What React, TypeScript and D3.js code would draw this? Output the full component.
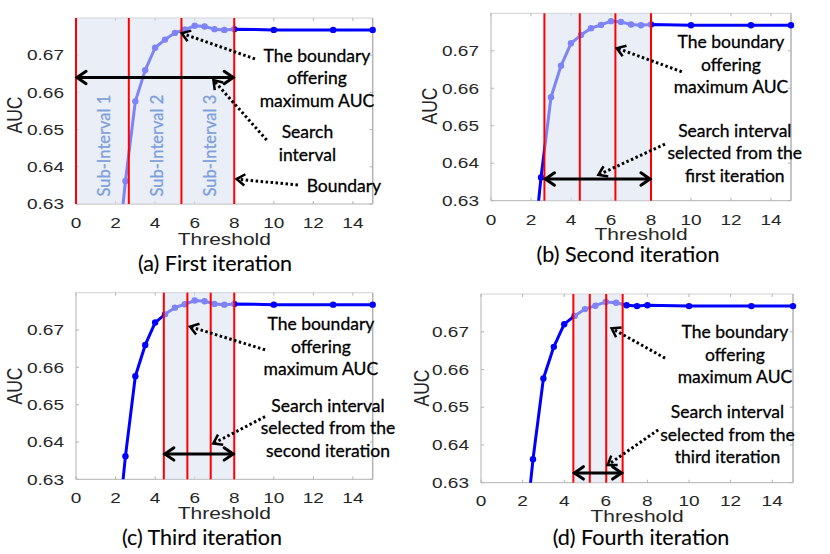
import React from 'react';
import * as d3 from 'd3';

// ---- data ----
const thresholds = [2, 2.5, 3, 3.5, 4, 4.5, 5, 5.5, 6, 6.5, 7, 7.5, 8, 10, 13, 15];
const aucValues = [0.61, 0.6362, 0.6576, 0.666, 0.672, 0.6742, 0.676, 0.6769, 0.6779, 0.6777, 0.677, 0.6768, 0.677, 0.6768, 0.6768, 0.6768];
const xTicks = [0, 2, 4, 6, 8, 10, 12, 14];
const yTicks = [0.63, 0.64, 0.65, 0.66, 0.67];

const boundariesA = [0, 2.67, 5.33, 8];
const boundariesB = [2.67, 4.44, 6.22, 8];
const boundariesC = [4.44, 5.63, 6.81, 8];
const boundariesD = [4.44, 5.23, 6.02, 6.81];

const shadeA = [0, 8];
const shadeB = [2.67, 8];
const shadeC = [4.44, 8];
const shadeD = [4.44, 6.81];

const searchA = [0, 8, 0.664];
const searchB = [2.67, 8, 0.6358];
const searchC = [4.44, 8, 0.6368];
const searchD = [4.44, 6.81, 0.6326];

const subIntervalLabels = ['Sub-Interval 1', 'Sub-Interval 2', 'Sub-Interval 3'];
const captions = ['(a) First iteration', '(b) Second iteration', '(c) Third iteration', '(d) Fourth iteration'];

type Ann = {
  lines: string[];
  tx: number; ty: number; anchor: 'middle' | 'start';
  from: [number, number]; to: [number, number];
};

const annotationsA: Ann[] = [
  { lines: ['The boundary', 'offering', 'maximum AUC'], tx: 12.18, ty: 0.6683, anchor: 'middle', from: [9.05, 0.669], to: [5.34, 0.6759] },
  { lines: ['Search', 'interval'], tx: 11.7, ty: 0.6477, anchor: 'middle', from: [9.64, 0.6472], to: [6.95, 0.6633] },
  { lines: ['Boundary'], tx: 11.66, ty: 0.6332, anchor: 'start', from: [11.22, 0.6351], to: [8.12, 0.6367] },
];
const annotationsB: Ann[] = [
  { lines: ['The boundary', 'offering', 'maximum AUC'], tx: 12.0, ty: 0.6707, anchor: 'middle', from: [9.54, 0.6644], to: [6.29, 0.6707] },
  { lines: ['Search interval', 'selected from the', 'first iteration'], tx: 12.19, ty: 0.6471, anchor: 'middle', from: [8.7, 0.6451], to: [5.37, 0.6369] },
];
const annotationsC: Ann[] = [
  { lines: ['The boundary', 'offering', 'maximum AUC'], tx: 12.38, ty: 0.67, anchor: 'middle', from: [9.56, 0.6647], to: [5.76, 0.6709] },
  { lines: ['Search interval', 'selected from the', 'second iteration'], tx: 12.74, ty: 0.6481, anchor: 'middle', from: [9.56, 0.6468], to: [6.94, 0.6396] },
];
const annotationsD: Ann[] = [
  { lines: ['The boundary', 'offering', 'maximum AUC'], tx: 12.21, ty: 0.6683, anchor: 'middle', from: [8.85, 0.663], to: [6.28, 0.6709] },
  { lines: ['Search interval', 'selected from the', 'third iteration'], tx: 11.85, ty: 0.6471, anchor: 'middle', from: [8.52, 0.644], to: [6.09, 0.6347] },
];

const panels = [
  { left: 76, right: 372.7, top: 18, bottom: 204, boundaries: boundariesA, shade: shadeA, search: searchA, annotations: annotationsA, caption: captions[0], capX: 215, capY: 271, thY: 245, tickY: 223, aucX: 14, aucY: 115, sub: true },
  { left: 491, right: 791, top: 13.3, bottom: 200.7, boundaries: boundariesB, shade: shadeB, search: searchB, annotations: annotationsB, caption: captions[1], capX: 628, capY: 262, thY: 240, tickY: 220, aucX: 429, aucY: 106, sub: false },
  { left: 76, right: 372.7, top: 292.7, bottom: 479.3, boundaries: boundariesC, shade: shadeC, search: searchC, annotations: annotationsC, caption: captions[2], capX: 202, capY: 545, thY: 519, tickY: 498, aucX: 14, aucY: 386, sub: false },
  { left: 481, right: 793, top: 294, bottom: 482.7, boundaries: boundariesD, shade: shadeD, search: searchD, annotations: annotationsD, caption: captions[3], capX: 641, capY: 545, thY: 522, tickY: 501, aucX: 421, aucY: 388, sub: false },
];

const AXIS_FONT = '"Liberation Sans", Arial, sans-serif';
const TEXT_FONT = 'Lato, "Open Sans", sans-serif';
const STRETCH = 1.27;

function head(from: [number, number], to: [number, number], L = 9, ang = 0.55) {
  const dx = to[0] - from[0], dy = to[1] - from[1];
  const len = Math.hypot(dx, dy) || 1;
  const ux = dx / len, uy = dy / len;
  const pts: [number, number][] = [ang, -ang].map((a) => {
    const c = Math.cos(a), s = Math.sin(a);
    const rx = ux * c - uy * s, ry = ux * s + uy * c;
    return [to[0] - L * rx, to[1] - L * ry];
  });
  return `M${pts[0][0]},${pts[0][1]}L${to[0]},${to[1]}L${pts[1][0]},${pts[1][1]}`;
}

function Panel({ p, idx }: { p: any; idx: number }) {
  const x = d3.scaleLinear().domain([0, 15]).range([p.left, p.right]);
  const y = d3.scaleLinear().domain([0.63, 0.68]).range([p.bottom, p.top]);
  const line = d3.line<number>().x((_, i) => x(thresholds[i])).y((d) => y(d));
  const clipId = `clip-${idx}`;
  const gridGray = '#b3b3b3';
  const lightGray = '#d0d0d0';
  const [s0, s1, sy] = p.search;
  const ay = y(sy);
  const ax0 = x(s0), ax1 = x(s1);
  return (
    <g>
      <defs>
        <clipPath id={clipId}>
          <rect x={p.left - 2} y={p.top - 10} width={p.right - p.left + 12} height={p.bottom - p.top + 10} />
        </clipPath>
      </defs>
      {/* frame */}
      <line x1={p.left} x2={p.right} y1={p.top} y2={p.top} stroke={lightGray} strokeWidth={1} />
      <line x1={p.right} x2={p.right} y1={p.top} y2={p.bottom} stroke={gridGray} strokeWidth={1.5} />
      <line x1={p.left} x2={p.right} y1={p.bottom} y2={p.bottom} stroke={gridGray} strokeWidth={1} />
      <line x1={p.left} x2={p.left} y1={p.top} y2={p.bottom} stroke={gridGray} strokeWidth={1} />
      {xTicks.map((t) => (
        <g key={'xt' + t}>
          <line x1={x(t)} x2={x(t)} y1={p.bottom} y2={p.bottom - 3} stroke={gridGray} />
          <line x1={x(t)} x2={x(t)} y1={p.top} y2={p.top + 3} stroke={gridGray} />
          <text transform={`translate(${x(t)},${p.tickY}) scale(${STRETCH},1)`} textAnchor="middle" dominantBaseline="central" fontFamily={AXIS_FONT} fontSize={15} fill="#262626">{t}</text>
        </g>
      ))}
      {yTicks.map((t) => (
        <g key={'yt' + t}>
          <line x1={p.left} x2={p.left + 3} y1={y(t)} y2={y(t)} stroke={gridGray} />
          <line x1={p.right} x2={p.right - 3} y1={y(t)} y2={y(t)} stroke={gridGray} />
          <text transform={`translate(${p.left - 12},${y(t)}) scale(${STRETCH},1)`} textAnchor="end" dominantBaseline="central" fontFamily={AXIS_FONT} fontSize={15} fill="#262626">{t.toFixed(2)}</text>
        </g>
      ))}
      {/* data */}
      <g clipPath={`url(#${clipId})`}>
        <path d={line(aucValues) || ''} fill="none" stroke="#0000ff" strokeWidth={3} strokeLinejoin="round" />
        {aucValues.map((v, i) => (
          <circle key={i} cx={x(thresholds[i])} cy={y(v)} r={3.2} fill="#0000ff" />
        ))}
      </g>
      {/* shaded search region */}
      <rect x={x(p.shade[0])} y={p.top} width={x(p.shade[1]) - x(p.shade[0])} height={p.bottom - p.top} fill="#d9e2f2" opacity={0.58} />
      {/* boundaries */}
      {p.boundaries.map((b: number, i: number) => (
        <line key={'b' + i} x1={x(b)} x2={x(b)} y1={p.top} y2={p.bottom} stroke="#ff0000" strokeWidth={2} />
      ))}
      {p.sub && subIntervalLabels.map((s, i) => {
        const mid = (p.boundaries[i] + p.boundaries[i + 1]) / 2;
        return (
          <text key={s} transform={`translate(${x(mid) + 2},${y(0.632)}) rotate(-90)`} textAnchor="start" dominantBaseline="central" fontFamily={TEXT_FONT} fontSize={16.5} fill="#7f9fdb" stroke="#7f9fdb" strokeWidth={0.3}>{s}</text>
        );
      })}
      {/* search interval double arrow */}
      <g stroke="#000" strokeWidth={3} fill="none" strokeLinecap="round">
        <line x1={ax0 + 1} x2={ax1 - 1} y1={ay} y2={ay} />
        <path d={head([ax1, ay], [ax0 + 1, ay], 11, 0.6)} />
        <path d={head([ax0, ay], [ax1 - 1, ay], 11, 0.6)} />
      </g>
      {/* annotations */}
      {p.annotations.map((a: Ann, i: number) => {
        const f: [number, number] = [x(a.from[0]), y(a.from[1])];
        const t: [number, number] = [x(a.to[0]), y(a.to[1])];
        return (
          <g key={'a' + i}>
            <line x1={f[0]} y1={f[1]} x2={t[0]} y2={t[1]} stroke="#000" strokeWidth={3} strokeDasharray="2.5 2.5" />
            <path d={head(f, t, 10, 0.6)} stroke="#000" strokeWidth={2.5} fill="none" />
            <text x={x(a.tx)} y={y(a.ty)} textAnchor={a.anchor} fontFamily={TEXT_FONT} fontSize={17.5} fill="#000" stroke="#000" strokeWidth={0.3}>
              {a.lines.map((l, j) => (
                <tspan key={j} x={x(a.tx)} dy={j === 0 ? 0 : 22.5}>{l}</tspan>
              ))}
            </text>
          </g>
        );
      })}
      {/* axis labels */}
      <text transform={`translate(${(p.left + p.right) / 2},${p.thY}) scale(${STRETCH},1)`} textAnchor="middle" fontFamily={AXIS_FONT} fontSize={16.5} fill="#262626">Threshold</text>
      <text transform={`translate(${p.aucX},${p.aucY}) scale(${STRETCH},1) rotate(-90)`} textAnchor="middle" dominantBaseline="central" fontFamily={AXIS_FONT} fontSize={17.5} fill="#262626">AUC</text>
      <text x={p.capX} y={p.capY} textAnchor="middle" fontFamily={TEXT_FONT} fontSize={21.5} fill="#000" stroke="#000" strokeWidth={0.12}>{p.caption}</text>
    </g>
  );
}

export default function App() {
  return (
    <svg width={830} height={554} style={{ position: 'absolute', left: 0, top: 0, background: '#fff' }}>
      <rect width={830} height={554} fill="#fff" />
      {panels.map((p, i) => <Panel key={i} p={p} idx={i} />)}
    </svg>
  );
}
